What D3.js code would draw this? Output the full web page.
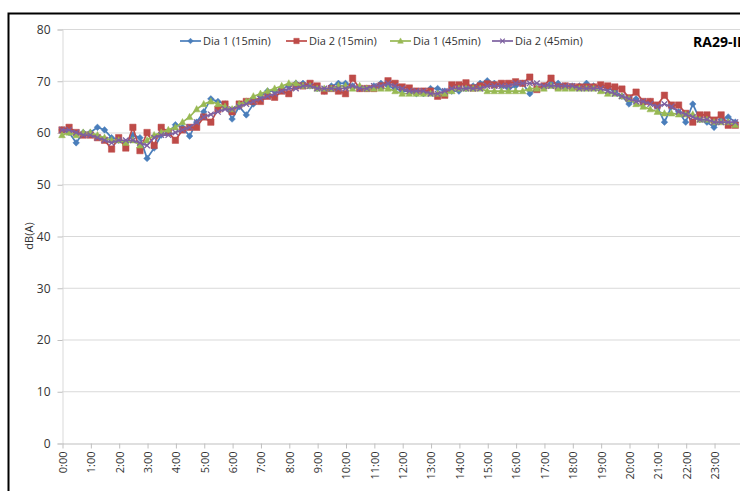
<!DOCTYPE html>
<html>
<head>
    <script src="https://d3js.org/d3.v7.min.js"></script>
    <style>
        body { margin: 0; background: #fff; }
        text { font-family: "Open Sans", "Liberation Sans", sans-serif; fill: #333; }
        .tick text { font-size: 11px; }
        .legend text { font-size: 11px; }
    </style>
</head>
<body>
    <svg width="740" height="491"></svg>

    <script>
        const svg = d3.select("svg"),
              width = 740, height = 491,
              margin = { top: 29, left: 62, bottom: 48 },
              hourWidth = 28.35;

        // Time slots every 15 minutes
        const hours = d3.range(0, 24, 1);
        const tickLabels = hours.map(h => h + ":00");

        // Values, one per 15 minutes (96 values)
        const dia1_15 = [
            60.5, 60, 58, 60, 60, 61, 60.5, 59, 58.5, 58, 59.5, 59, 55, 57, 59.5, 60,
            61.5, 61, 59.3, 62, 64, 66.5, 66, 65.5, 62.6, 65, 63.4, 65.5, 67, 68, 68, 68.5,
            69, 69.5, 69.5, 69, 68.5, 68, 69, 69.5, 69.5, 69, 68.5, 68.5, 69, 69.5, 69, 68.5,
            68, 68, 67.5, 67.5, 68.5, 68.5, 68, 68, 68, 68.5, 69, 69.5, 70, 69.5, 69, 68.5,
            69, 69.5, 67.5, 68.5, 69, 69.5, 69.5, 69, 69, 69, 69.5, 69, 69, 68.5, 68, 67,
            65.5, 66.5, 65.5, 66, 65, 62, 65, 64, 62, 65.5, 62.5, 62, 61, 62.5, 63, 62
        ];
        const dia2_15 = [
            60.5, 61, 60, 59.5, 59.5, 59, 58.5, 56.8, 59, 57, 61, 56.5, 60, 57.5, 61, 60,
            58.5, 60.5, 61, 61, 63, 62, 64.5, 65.5, 64, 65.5, 66, 66, 66, 67, 66.8, 68,
            67.5, 69, 69, 69.5, 69, 68, 68.5, 68, 67.5, 70.5, 68.5, 68.5, 68.5, 69, 70, 69.5,
            68.8, 68.6, 68, 68, 68, 67, 67.2, 69.2, 69.2, 69.6, 68.6, 69, 69.4, 69.2, 69.5, 69.5,
            69.8, 69.5, 70.7, 68.3, 69, 70.5, 68.8, 69, 68.8, 68.8, 68.8, 68.8, 69.2, 69, 68.8, 68.4,
            66.7, 67.8, 66, 66, 65.3, 67.2, 65.3, 65.3, 63.7, 62, 63.4, 63.4, 62.4, 63.4, 61.4, 61.4
        ];
        const dia1_45 = [
            59.5, 60, 59.5, 60, 60, 59.5, 59, 58.5, 58.5, 58, 58.5, 57.5, 58.5, 59.5, 60, 60.5,
            61, 62, 63, 64.5, 65.5, 66, 65.5, 65, 64.5, 65.5, 66, 67, 67.5, 68, 68.5, 69,
            69.5, 69.5, 69, 69, 68.5, 68.5, 68.5, 69, 69, 68.5, 69, 68.5, 68.5, 68.5, 68.5, 68,
            67.5, 67.5, 67.5, 67.5, 67.5, 67.5, 67.5, 68, 68.5, 68.5, 68.5, 68.5, 68, 68, 68, 68,
            68, 68, 68.5, 68.5, 68.5, 69, 68.5, 68.5, 68.5, 68.5, 68.5, 68.5, 68, 67.5, 67.5, 67,
            66.5, 65.5, 65, 64.5, 64, 63.7, 63.7, 63.5, 63.5, 63.5, 62.5, 62.5, 62, 62, 62, 61.5
        ];
        const dia2_45 = [
            60.5, 60.5, 60, 59.5, 59.5, 59, 58.5, 58, 58.5, 58.5, 58.5, 58, 57.5, 59, 59.5, 59.5,
            60, 60.5, 61, 62, 63, 63.5, 64, 64.5, 64.5, 65, 65.5, 66, 66.5, 67, 67.5, 68,
            68.5, 68.5, 69, 69, 68.5, 68.5, 68.5, 68.5, 68.5, 69, 68.5, 68.5, 69, 69, 69.5, 69,
            68.5, 68, 68, 68, 67.5, 67.5, 68, 68.5, 68.5, 68.5, 68.5, 68.5, 69, 69, 69, 69,
            69.5, 69.5, 69.5, 69.5, 69, 69, 69, 69, 69, 68.5, 68.5, 68.5, 68.5, 68, 67.5, 67,
            66.5, 66, 66, 65.5, 65, 65.5, 65, 64, 63.5, 63, 62.5, 62.5, 62, 62, 62, 62
        ];

        const series = [
            { name: "Dia 1 (15min)", values: dia1_15, color: "#4a7ebb", marker: "diamond" },
            { name: "Dia 2 (15min)", values: dia2_15, color: "#be4b48", marker: "square" },
            { name: "Dia 1 (45min)", values: dia1_45, color: "#98b954", marker: "triangle" },
            { name: "Dia 2 (45min)", values: dia2_45, color: "#7d60a0", marker: "x" }
        ];

        const x = d3.scaleLinear().domain([0, 24]).range([margin.left, margin.left + 24 * hourWidth]);
        const y = d3.scaleLinear().domain([0, 80]).range([height - margin.bottom, margin.top]);

        // Outer frame (cropped on right and bottom)
        svg.append("rect")
            .attr("x", 8.5).attr("y", 13.5)
            .attr("width", 900).attr("height", 700)
            .attr("fill", "none")
            .attr("stroke", "#000")
            .attr("stroke-width", 2);

        // Gridlines
        svg.append("g")
            .selectAll("line")
            .data(d3.range(10, 81, 10))
            .enter().append("line")
            .attr("x1", margin.left).attr("x2", width)
            .attr("y1", d => y(d) + 0.5).attr("y2", d => y(d) + 0.5)
            .attr("stroke", "#d9d9d9");

        // Y axis
        const yAxis = svg.append("g")
            .attr("transform", `translate(${margin.left + 0.5},0.5)`)
            .call(d3.axisLeft(y).tickValues(d3.range(0, 81, 10)).tickSize(5).tickPadding(7));
        yAxis.select(".domain").attr("stroke", "#d9d9d9");
        yAxis.selectAll(".tick line").attr("stroke", "#bfbfbf");
        yAxis.selectAll(".tick text").style("font-size", "12px");

        // X axis
        const xAxis = svg.append("g")
            .attr("transform", `translate(0.5,${y(0) + 0.5})`)
            .call(d3.axisBottom(x).tickValues(hours).tickFormat((d, i) => tickLabels[i]).tickSize(5).tickSizeOuter(0));
        xAxis.select(".domain").attr("stroke", "#bfbfbf");
        xAxis.selectAll(".tick line").attr("stroke", "#bfbfbf");
        xAxis.selectAll(".tick text")
            .attr("transform", "rotate(-90)")
            .attr("text-anchor", "end")
            .attr("x", -8).attr("y", 0)
            .attr("dy", "0.35em");

        // Axis title
        svg.append("text")
            .attr("transform", `translate(33,${y(40)}) rotate(-90)`)
            .attr("text-anchor", "middle")
            .attr("font-size", "11px")
            .text("dB(A)");

        function markerPath(type, s) {
            if (type === "diamond") return `M0,${-s}L${s},0L0,${s}L${-s},0Z`;
            if (type === "square") return `M${-s},${-s}H${s}V${s}H${-s}Z`;
            if (type === "triangle") return `M0,${-s * 1.1}L${s},${s * 0.8}L${-s},${s * 0.8}Z`;
            return `M${-s},${-s}L${s},${s}M${-s},${s}L${s},${-s}`;
        }
        const markerSize = { diamond: 3.3, square: 3.2, triangle: 3.3, x: 2.8 };

        const line = d3.line()
            .x((d, i) => x(i / 4))
            .y(d => y(d));

        series.forEach(s => {
            const g = svg.append("g");
            g.append("path")
                .datum(s.values)
                .attr("fill", "none")
                .attr("stroke", s.color)
                .attr("stroke-width", 1.7)
                .attr("d", line);
            g.selectAll("path.m")
                .data(s.values)
                .enter().append("path")
                .attr("class", "m")
                .attr("transform", (d, i) => `translate(${x(i / 4)},${y(d)})`)
                .attr("d", markerPath(s.marker, markerSize[s.marker]))
                .attr("fill", s.marker === "x" ? "none" : s.color)
                .attr("stroke", s.color)
                .attr("stroke-width", s.marker === "x" ? 1.3 : 0.5);
        });

        // Legend
        const legendX = [180, 286, 390, 492];
        const legend = svg.append("g").attr("class", "legend");
        series.forEach((s, i) => {
            const lg = legend.append("g").attr("transform", `translate(${legendX[i]},41)`);
            lg.append("line").attr("x1", 0).attr("x2", 21).attr("stroke", s.color).attr("stroke-width", 1.7);
            lg.append("path")
                .attr("transform", "translate(10.5,0)")
                .attr("d", markerPath(s.marker, markerSize[s.marker] - 0.5))
                .attr("fill", s.marker === "x" ? "none" : s.color)
                .attr("stroke", s.color)
                .attr("stroke-width", s.marker === "x" ? 1.2 : 0.5);
            lg.append("text").attr("x", 23).attr("dy", "0.35em").text(s.name);
        });

        // Title (cropped at the right edge)
        svg.append("text")
            .attr("x", 693).attr("y", 47)
            .attr("font-size", "14px")
            .attr("font-weight", "bold")
            .style("fill", "#000")
            .text("RA29-ID");
    </script>
</body>
</html>
